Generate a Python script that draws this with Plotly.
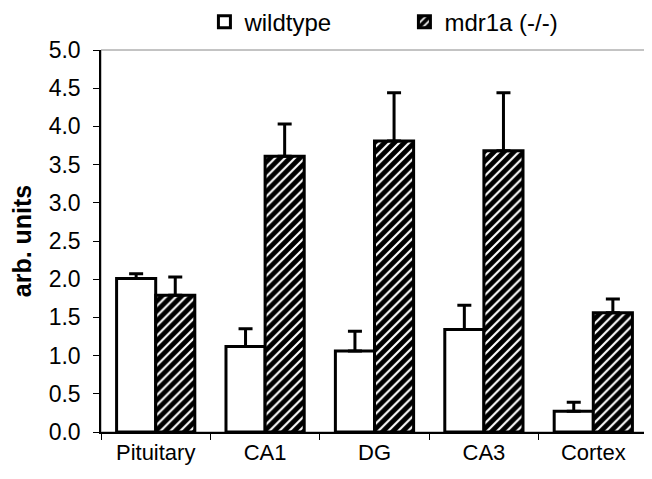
import plotly.graph_objects as go

categories = ["Pituitary", "CA1", "DG", "CA3", "Cortex"]
wildtype = [2.01, 1.12, 1.06, 1.34, 0.27]
wildtype_err = [0.06, 0.23, 0.26, 0.32, 0.12]
mdr1a = [1.79, 3.61, 3.81, 3.68, 1.56]
mdr1a_err = [0.24, 0.42, 0.63, 0.76, 0.18]
y_ticks = [0.0, 0.5, 1.0, 1.5, 2.0, 2.5, 3.0, 3.5, 4.0, 4.5, 5.0]

FONT = "Arial, Liberation Sans, sans-serif"

fig = go.Figure()
fig.add_trace(go.Bar(
    name="wildtype", x=categories, y=wildtype,
    marker=dict(color="white", line=dict(color="black", width=3)),
    error_y=dict(type="data", array=wildtype_err, arrayminus=[0] * len(wildtype_err),
                 symmetric=False, color="black", thickness=3, width=7),
))
fig.add_trace(go.Bar(
    name="mdr1a (-/-)", x=categories, y=mdr1a,
    marker=dict(color="white", line=dict(color="black", width=3),
                pattern=dict(shape="/", fgcolor="black", bgcolor="white",
                             fgopacity=1, size=7, solidity=0.7, fillmode="replace")),
    error_y=dict(type="data", array=mdr1a_err, arrayminus=[0] * len(mdr1a_err),
                 symmetric=False, color="black", thickness=3, width=7),
))

fig.add_shape(type="rect", xref="paper", yref="paper", x0=0, x1=1, y0=0, y1=1,
              line=dict(color="#888", width=1), layer="below")

fig.update_layout(
    width=644, height=471,
    margin=dict(l=93, r=4, t=42, b=47, autoexpand=False),
    paper_bgcolor="white", plot_bgcolor="white",
    barmode="group", bargap=0.285, bargroupgap=0,
    font=dict(family=FONT, size=22, color="black"),
    showlegend=True,
    legend=dict(orientation="h", xref="container", yref="container",
                x=0.305, xanchor="left", y=0.97, yanchor="middle",
                font=dict(size=24), entrywidth=155, entrywidthmode="pixels",
                itemwidth=30, bgcolor="rgba(0,0,0,0)", traceorder="normal"),
    xaxis=dict(type="category", showline=True, linecolor="black", linewidth=1.5,
               ticks="outside", tickson="boundaries", ticklen=6, tickcolor="black",
               tickfont=dict(size=22), showgrid=False, zeroline=False, automargin=False),
    yaxis=dict(range=[0, 5], tickvals=y_ticks, tickformat=".1f",
               showline=True, linecolor="black", linewidth=1.5,
               ticks="outside", ticklen=6, tickcolor="black", ticklabelstandoff=8,
               tickfont=dict(size=23), showgrid=False, zeroline=False, automargin=False,
               title=dict(text="<b>arb. units</b>", font=dict(size=25), standoff=14)),
)

fig.write_html("out.html")
